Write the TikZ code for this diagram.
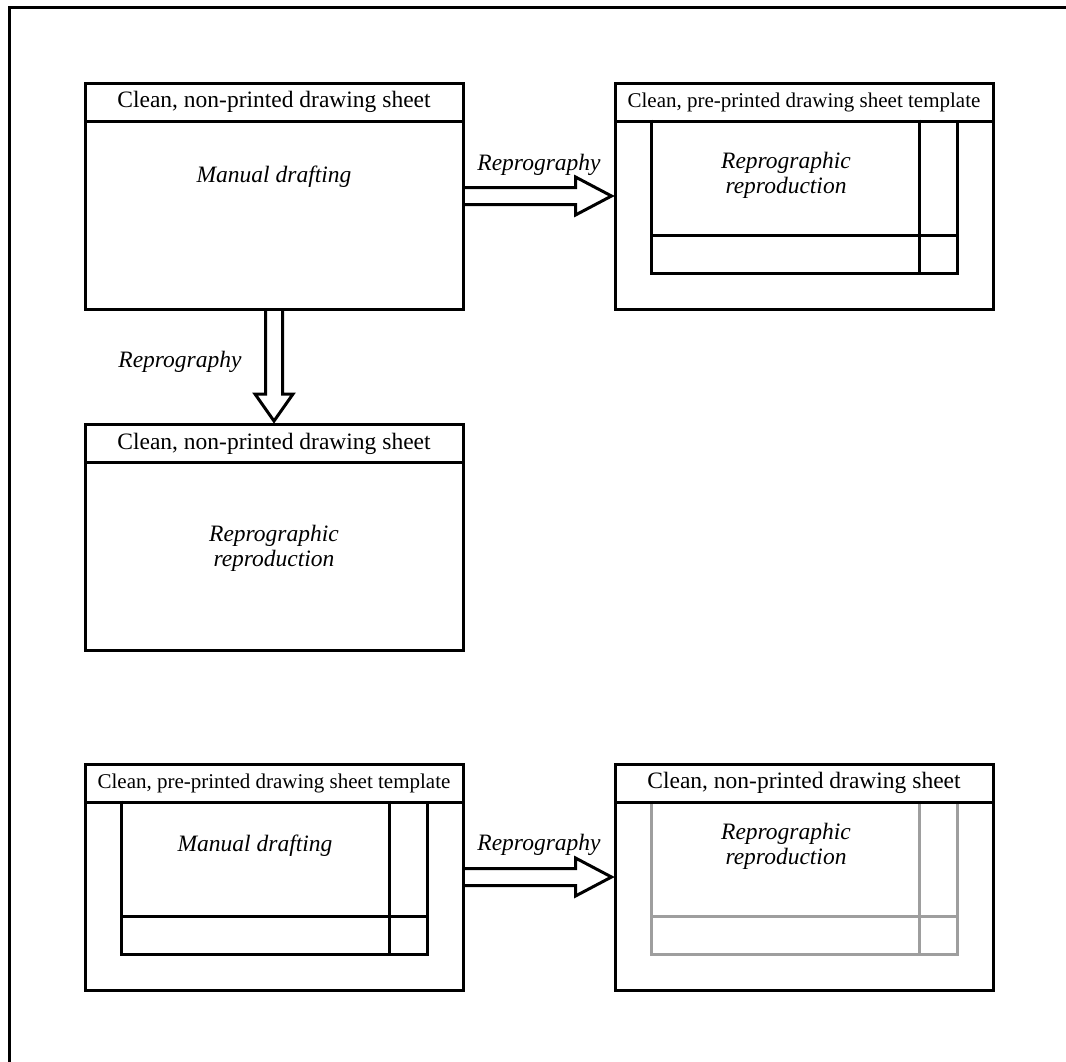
\documentclass[tikz,border=0pt]{standalone}
\usepackage{fontspec}
\setmainfont{Liberation Serif}
\usetikzlibrary{calc}

\begin{document}
\begin{tikzpicture}[x=1pt,y=-1pt,
  sheet/.style={draw,line width=3pt,minimum width=378,minimum height=226,inner sep=0pt},
  header/.style={draw,line width=3pt,minimum width=378,minimum height=38,inner sep=0pt,anchor=north,
    font=\fontsize{23.5}{26}\selectfont},
  smallheader/.style={header,font=\fontsize{21}{24}\selectfont},
  body/.style={font=\fontsize{23.5}{25}\selectfont\itshape,align=center,inner sep=0pt},
  fat/.style={draw,line width=3pt,line join=miter},
  frameline/.style={line width=3pt},
  greyline/.style={line width=2.2pt,draw=black!38}
]
\useasboundingbox (0,0) rectangle (1066,1061);

% page border (only top and left edges fall inside the sheet)
\draw[line width=3pt] (9.5,1070) -- (9.5,7) -- (1075,7);

% the five drawing sheets
\node[sheet] (s1) at (274,196) {};
\node[sheet] (s2) at (804,196) {};
\node[sheet] (s3) at (274,537.5) {};
\node[sheet] (s4) at (274,877) {};
\node[sheet] (s5) at (804,877) {};

% pre-printed frame with title block, hanging from the header line
\newcommand\titleframe[2]{%
  \draw[#2] ($(#1.north west)+(38,38)$) -- ($(#1.south west)+(38,-37)$)
    -- ($(#1.south east)+(-37,-37)$) -- ($(#1.north east)+(-37,38)$);
  \draw[#2] ($(#1.north east)+(-75,38)$) -- ($(#1.south east)+(-75,-37)$);
  \draw[#2] ($(#1.south west)+(38,-75)$) -- ($(#1.south east)+(-37,-75)$);
}
\titleframe{s2}{frameline}
\titleframe{s4}{frameline}
\titleframe{s5}{greyline}

\node[header] (h1) at (s1.north) {Clean, non-printed drawing sheet};
\node[smallheader] (h2) at (s2.north) {Clean, pre-printed drawing sheet template};
\node[header] (h3) at (s3.north) {Clean, non-printed drawing sheet};
\node[smallheader] (h4) at (s4.north) {Clean, pre-printed drawing sheet template};
\node[header] (h5) at (s5.north) {Clean, non-printed drawing sheet};

% sheet contents
\node[body] (t1) at (274,177) {Manual drafting};
\node[body] (t2) at (786,175) {Reprographic\\reproduction};
\node[body] (t3) at (274,548) {Reprographic\\reproduction};
\node[body] (t4) at (255,846) {Manual drafting};
\node[body] (t5) at (786,846) {Reprographic\\reproduction};

% block arrows
\draw[fat] ($(s1.east)+(0,-8.5)$) -- ($(s2.west)+(-38,-8.5)$) -- ($(s2.west)+(-38,-19)$)
  -- ($(s2.west)+(-2,0)$) -- ($(s2.west)+(-38,19)$) -- ($(s2.west)+(-38,8.5)$) -- ($(s1.east)+(0,8.5)$);
\draw[fat] ($(s4.east)+(0,-8.5)$) -- ($(s5.west)+(-38,-8.5)$) -- ($(s5.west)+(-38,-19)$)
  -- ($(s5.west)+(-2,0)$) -- ($(s5.west)+(-38,19)$) -- ($(s5.west)+(-38,8.5)$) -- ($(s4.east)+(0,8.5)$);
\draw[fat] ($(s1.south)+(-8.5,0)$) -- ($(h3.north)+(-8.5,-29)$) -- ($(h3.north)+(-19,-29)$)
  -- ($(h3.north)+(0,-2)$) -- ($(h3.north)+(19,-29)$) -- ($(h3.north)+(8.5,-29)$) -- ($(s1.south)+(8.5,0)$);

% arrow labels
\node[body] (l1) at (539,165) {Reprography};
\node[body] (l2) at (180,362) {Reprography};
\node[body] (l3) at (539,845) {Reprography};
\end{tikzpicture}
\end{document}
